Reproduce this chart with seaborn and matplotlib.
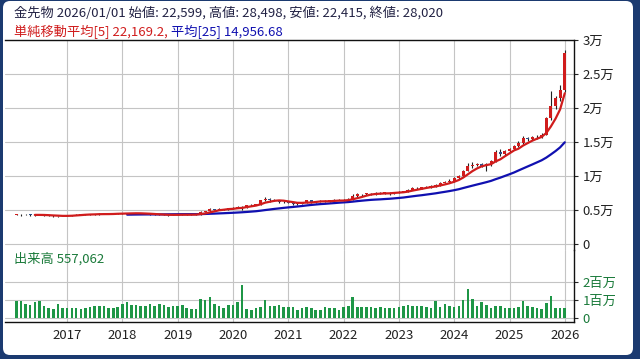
import pandas as pd
import seaborn as sns
import matplotlib.pyplot as plt
from matplotlib.patches import FancyBboxPatch

# monthly candles from 2016/02 to 2026/01 (yen per gram)
first_month = "2016-02-01"
opens = [4280, 4320, 4250, 4300, 4280, 4250, 4320, 4200, 4150, 4080, 4100,
         4150, 4200, 4250, 4300, 4350, 4400, 4380, 4350, 4450, 4400, 4420, 4450,
         4500, 4550, 4500, 4500, 4520, 4480, 4420, 4350, 4300, 4280, 4300, 4250,
         4300, 4320, 4350, 4300, 4280, 4350, 4700, 4800, 5100, 5050, 5150, 5100,
         5250, 5300, 5500, 5400, 5700, 5800, 5850, 6400, 6650, 6400, 6450, 6150,
         6200, 6100, 5900, 5950, 6100, 6400, 6150, 6300, 6350, 6200, 6400, 6450,
         6500, 6400, 6500, 7000, 7300, 7350, 7400, 7300, 7450, 7500, 7550, 7450,
         7600, 7700, 7750, 8000, 8200, 8250, 8350, 8400, 8600, 8700, 9000, 9100,
         9250, 9700, 10000, 10800, 11500, 11600, 11700, 11500, 11700, 12200, 13600, 13250,
         13721, 13900, 14400, 14800, 15600, 15500, 15700, 15800, 16100, 18550, 20230, 21470,
         22599]
highs = [4400, 4380, 4350, 4350, 4330, 4380, 4350, 4280, 4200, 4180, 4200,
         4250, 4300, 4350, 4400, 4450, 4450, 4420, 4500, 4500, 4470, 4500, 4550,
         4600, 4600, 4550, 4570, 4550, 4500, 4450, 4380, 4350, 4350, 4320, 4350,
         4380, 4400, 4400, 4350, 4400, 4800, 4900, 5250, 5200, 5250, 5200, 5300,
         5400, 5650, 5650, 5750, 5900, 5950, 6500, 6900, 6700, 6550, 6500, 6300,
         6250, 6150, 6050, 6150, 6450, 6500, 6350, 6450, 6400, 6450, 6550, 6600,
         6550, 6700, 7300, 7450, 7400, 7550, 7450, 7600, 7650, 7700, 7650, 7700,
         7800, 7850, 8100, 8350, 8400, 8450, 8500, 8700, 8850, 9150, 9250, 9500,
         9800, 10100, 10900, 11900, 12000, 11900, 11950, 11900, 12350, 13800, 13900, 13850,
         14100, 14600, 15100, 15900, 15700, 15900, 16000, 16300, 18700, 22450, 21800, 23450,
         28498]
lows = [4200, 4150, 4200, 4180, 4150, 4200, 4150, 4100, 4000, 4020, 4050,
        4100, 4150, 4200, 4250, 4300, 4300, 4300, 4300, 4350, 4350, 4380, 4400,
        4450, 4450, 4420, 4450, 4420, 4380, 4300, 4200, 4200, 4230, 4180, 4200,
        4250, 4280, 4250, 4200, 4220, 4300, 4650, 4750, 4950, 4950, 5050, 5050,
        5200, 5250, 5000, 5300, 5600, 5700, 5800, 6300, 6200, 6300, 6050, 6100,
        6000, 5800, 5800, 5900, 6050, 6100, 6100, 6200, 6150, 6150, 6350, 6400,
        6300, 6350, 6450, 6950, 7050, 7150, 7200, 7250, 7350, 7400, 7250, 7350,
        7500, 7600, 7650, 7950, 8100, 8150, 8250, 8300, 8450, 8550, 8900, 9000,
        9150, 9550, 9900, 10700, 11200, 11400, 11300, 10800, 11500, 12100, 12900, 13100,
        13500, 13800, 14200, 14700, 15200, 15300, 15500, 15600, 16000, 18300, 19800, 21000,
        22415]
closes = [4320, 4250, 4300, 4280, 4250, 4320, 4200, 4150, 4080, 4100, 4150,
          4200, 4250, 4300, 4350, 4400, 4380, 4350, 4450, 4400, 4420, 4450, 4500,
          4550, 4500, 4500, 4520, 4480, 4420, 4350, 4300, 4280, 4300, 4250, 4300,
          4320, 4350, 4300, 4280, 4350, 4700, 4800, 5100, 5050, 5150, 5100, 5250,
          5300, 5500, 5400, 5700, 5800, 5850, 6400, 6650, 6400, 6450, 6150, 6200,
          6100, 5900, 5950, 6100, 6400, 6150, 6300, 6350, 6200, 6400, 6450, 6500,
          6400, 6500, 7000, 7300, 7350, 7400, 7300, 7450, 7500, 7550, 7450, 7600,
          7700, 7750, 8000, 8200, 8250, 8350, 8400, 8600, 8700, 9000, 9100, 9250,
          9700, 10000, 10800, 11500, 11600, 11700, 11500, 11700, 12200, 13600, 13250, 13721,
          13900, 14400, 14800, 15600, 15500, 15700, 15800, 16100, 18550, 20230, 21470, 22576,
          28020]
volumes = [0.96, 0.93, 0.78, 0.72, 0.92, 0.97, 0.70, 0.55, 0.50, 0.80, 0.55,
           0.55, 0.55, 0.58, 0.48, 0.55, 0.62, 0.65, 0.68, 0.68, 0.55, 0.55, 0.60,
           0.80, 0.88, 0.75, 0.72, 0.65, 0.70, 0.78, 0.65, 0.80, 0.72, 0.62, 0.68,
           0.70, 0.75, 0.55, 0.52, 0.50, 1.05, 1.00, 1.20, 0.80, 0.65, 0.58, 0.72,
           0.72, 0.88, 1.85, 0.50, 0.45, 0.55, 0.62, 1.00, 0.65, 0.65, 0.72, 0.60,
           0.60, 0.62, 0.45, 0.55, 0.62, 0.55, 0.45, 0.45, 0.60, 0.55, 0.55, 0.45,
           0.62, 0.68, 1.20, 0.62, 0.60, 0.62, 0.60, 0.58, 0.62, 0.58, 0.55, 0.55,
           0.62, 0.68, 0.72, 0.65, 0.70, 0.65, 0.62, 0.55, 0.95, 0.62, 0.78, 0.65,
           0.60, 0.65, 1.00, 1.65, 1.05, 0.70, 0.92, 0.75, 0.55, 0.70, 0.65, 0.58,
           0.55, 0.58, 0.60, 0.95, 0.70, 0.62, 0.55, 0.50, 0.85, 1.25, 0.55, 0.58,
           0.557]  # millions

years = list(range(2017, 2027))
price_ticks = [0, 5000, 10000, 15000, 20000, 25000, 30000]
price_labels = ["0", "0.5万", "1万", "1.5万", "2万", "2.5万", "3万"]
vol_ticks = [0, 1e6, 2e6]
vol_labels = ["0", "1百万", "2百万"]

df = pd.DataFrame({"open": opens, "high": highs, "low": lows, "close": closes,
                   "volume": [v * 1e6 for v in volumes]})
df["date"] = pd.date_range(first_month, periods=len(df), freq="MS")
df["ma5"] = df["close"].rolling(5).mean()
df["ma25"] = df["close"].rolling(25).mean()

sns.set_style("white")
plt.rcParams["font.family"] = ["Noto Sans CJK JP", "DejaVu Sans"]

RED = "#d01c1c"
BLUE = "#1010b0"
GREEN = "#1e9646"
NAVY = "#1b3a70"

fig = plt.figure(figsize=(6.4, 3.59), dpi=100, facecolor=NAVY)
W, H = 640, 359
fig.patches.append(FancyBboxPatch((3, 4), 630, 354, boxstyle="round,pad=0,rounding_size=7",
                                  transform=None, facecolor="white", edgecolor="none",
                                  zorder=-10))

ax = fig.add_axes([5 / W, 1 - 250 / H, 569 / W, 210 / H])
axv = fig.add_axes([5 / W, 1 - 322 / H, 569 / W, 72 / H], sharex=ax)
for a in (ax, axv):
    a.patch.set_alpha(0)

# candles
up = df["close"] >= df["open"]
ax.vlines(df["date"], df["low"], df["high"], color="#222222", lw=0.8, zorder=2)
body = (df["close"] - df["open"]).abs().clip(lower=80)
ax.bar(df["date"], body, bottom=df[["open", "close"]].min(axis=1), width=20,
       color=[RED if u else "#2e4f8a" for u in up], edgecolor="none", lw=0, zorder=3)

sns.lineplot(data=df, x="date", y="ma25", ax=ax, color=BLUE, lw=1.6, zorder=4)
sns.lineplot(data=df, x="date", y="ma5", ax=ax, color=RED, lw=1.6, zorder=4)

axv.bar(df["date"], df["volume"], width=17, color=GREEN, edgecolor="none", lw=0,
        zorder=3)

xticks = [pd.Timestamp(f"{y}-01-01") for y in years]
ax.set_xlim(pd.Timestamp("2015-11-17"), pd.Timestamp("2026-03-03"))
ax.set_xticks(xticks)
axv.set_xticklabels([str(y) for y in years])
ax.tick_params(axis="x", labelbottom=False, length=0)
axv.tick_params(axis="x", length=3, pad=2, labelsize=9.5, colors="#222222")

ax.set_ylim(-882, 30000)
ax.set_yticks(price_ticks)
ax.set_yticklabels(price_labels)
axv.set_ylim(-224000, 3810000)
axv.set_yticks(vol_ticks)
axv.set_yticklabels(vol_labels)
for a, c in ((ax, "#222222"), (axv, "#1a7a3a")):
    a.yaxis.tick_right()
    a.tick_params(axis="y", length=3, pad=3, labelsize=9.5, labelcolor=c)
    a.grid(True, color="#c4c4c4", lw=0.8)
    a.set_xlabel("")
    a.set_ylabel("")
    a.spines["left"].set_visible(False)
    for s in a.spines.values():
        s.set_color("#111111")
        s.set_linewidth(1)
ax.spines["bottom"].set_visible(False)
axv.spines["top"].set_visible(False)
if ax.get_legend():
    ax.get_legend().remove()

fig.text(14 / W, 1 - 12.5 / H,
         "金先物 2026/01/01 始値: 22,599, 高値: 28,498, 安値: 22,415, 終値: 28,020",
         fontsize=9.5, color="#222244", va="center")
t1 = fig.text(14 / W, 1 - 32 / H, "単純移動平均[5] 22,169.2,", fontsize=9.5,
              color=RED, va="center")
ax.annotate(" 平均[25] 14,956.68", xy=(1, 0), xycoords=t1, va="bottom",
            fontsize=9.5, color=BLUE, annotation_clip=False)
fig.text(14 / W, 1 - 259 / H, "出来高 557,062", fontsize=9.5, color="#1a7a3a",
         va="center")

fig.savefig("out.png", dpi=100)
